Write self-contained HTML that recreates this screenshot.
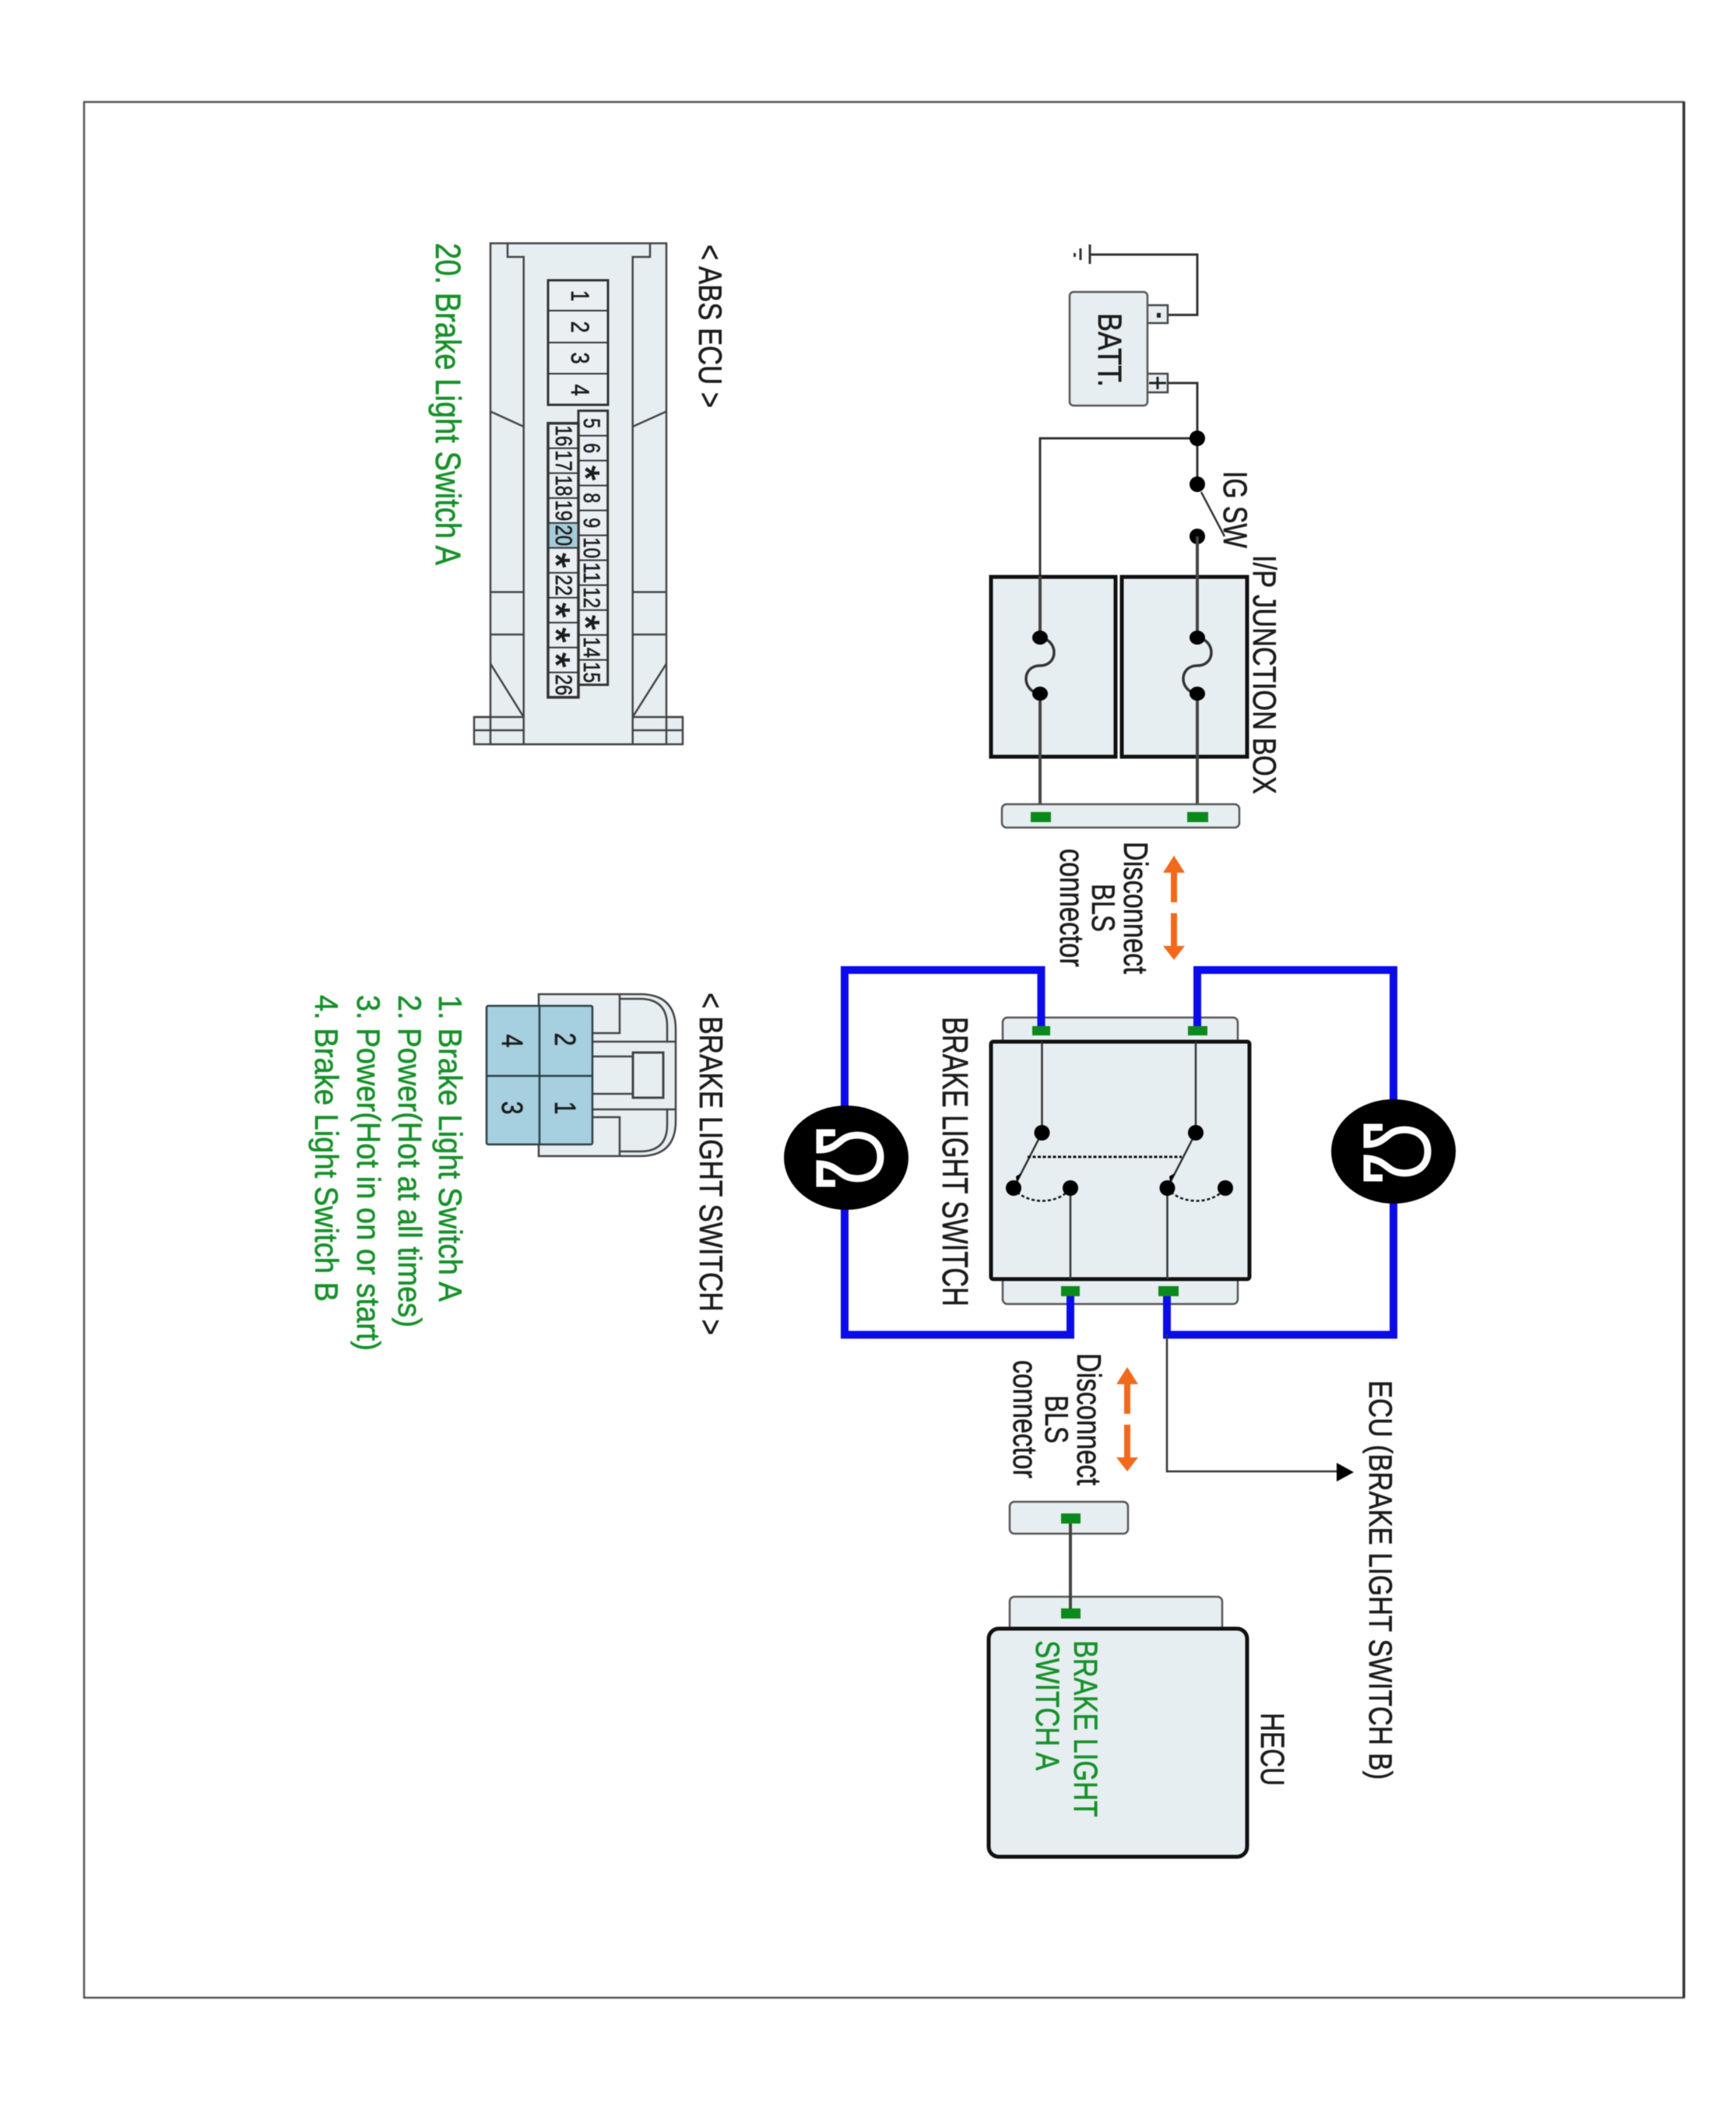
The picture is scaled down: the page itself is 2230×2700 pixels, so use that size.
<!DOCTYPE html>
<html><head><meta charset="utf-8"><style>
html,body{margin:0;padding:0;background:#fff}
svg{display:block;filter:blur(.6px)}
text{font-family:"Liberation Sans",sans-serif;fill:#1c1c1c;stroke:#1c1c1c;stroke-width:.6}
text.g{fill:#17912a;stroke:#17912a}
.f{fill:#e6eef1}
.w{fill:none;stroke:#333;stroke-width:3}
.t{fill:none;stroke:#444;stroke-width:4}
.b{fill:none;stroke:#0b0bea;stroke-width:10;stroke-linejoin:miter}
.c{fill:#0b8a1c}
.k{fill:#000}
.l{fill:none;stroke:#333;stroke-width:2.5}
.o{fill:none;stroke:#fff;stroke-width:9}
</style></head><body>
<svg width="2230" height="2700" viewBox="0 0 2230 2700" xmlns="http://www.w3.org/2000/svg">
<rect width="2230" height="2700" fill="#fff"/>
<rect x="108" y="131" width="2055" height="2435" fill="none" stroke="#555" stroke-width="2.5"/>
<line x1="2163" y1="131" x2="2163" y2="2566" stroke="#333" stroke-width="3.5"/>

<!-- battery / ground -->
<path class="w" d="M1400 327H1538V404.5H1500"/>
<path class="w" d="M1400 314V339M1388 319V334" />
<rect x="1379" y="325" width="3" height="5" fill="#333"/>
<rect class="f" x="1473" y="392" width="27" height="23" stroke="#444" stroke-width="2.5"/>
<rect class="f" x="1473" y="480" width="27" height="24" stroke="#444" stroke-width="2.5"/>
<rect x="1486" y="402" width="5" height="6" fill="#222"/>
<path d="M1476 492H1498M1487 484V500" stroke="#222" stroke-width="3" fill="none"/>
<rect class="f" x="1374" y="375" width="100" height="146" rx="5" stroke="#555" stroke-width="2.5"/>
<text transform="translate(1411,402) rotate(90)" font-size="43" textLength="95" lengthAdjust="spacingAndGlyphs">BATT.</text>
<path class="w" d="M1500 492H1538V622"/>
<path class="w" d="M1538 563H1336V740"/>
<circle class="k" cx="1538" cy="563" r="10"/>
<circle class="k" cx="1538" cy="622" r="10"/>
<circle class="k" cx="1538" cy="689" r="10"/>
<path d="M1543 632L1573 689" stroke="#333" stroke-width="2.5"/>
<text transform="translate(1572,605) rotate(90)" font-size="43" textLength="99" lengthAdjust="spacingAndGlyphs">IG SW</text>
<text transform="translate(1610,713) rotate(90)" font-size="42" textLength="307" lengthAdjust="spacingAndGlyphs">I/P JUNCTION BOX</text>

<!-- junction boxes -->
<rect class="f" x="1441" y="741" width="161" height="231" stroke="#111" stroke-width="5"/>
<rect class="f" x="1273" y="741" width="160" height="231" stroke="#111" stroke-width="5"/>
<path class="t" d="M1538 689V819M1538 891V1043"/>
<path class="t" d="M1336 740V819M1336 891V1043"/>
<g fill="none" stroke="#333" stroke-width="3.5">
<path d="M1538 819C1562 822 1562 855 1538 855C1514 855 1514 888 1538 891"/>
<path d="M1336 819C1360 822 1360 855 1336 855C1312 855 1312 888 1336 891"/>
</g>
<ellipse class="k" cx="1538" cy="819" rx="10" ry="9"/>
<ellipse class="k" cx="1538" cy="891" rx="10" ry="9"/>
<ellipse class="k" cx="1336" cy="819" rx="10" ry="9"/>
<ellipse class="k" cx="1336" cy="891" rx="10" ry="9"/>
<rect class="f" x="1287" y="1033" width="305" height="30" rx="6" stroke="#555" stroke-width="2.5"/>
<rect class="c" x="1525" y="1043" width="27" height="13"/>
<rect class="c" x="1324" y="1043" width="26" height="13"/>

<!-- upper disconnect -->
<text transform="translate(1444,1081) rotate(90)" font-size="44" textLength="170" lengthAdjust="spacingAndGlyphs">Disconnect</text>
<text transform="translate(1403,1135) rotate(90)" font-size="42" textLength="62" lengthAdjust="spacingAndGlyphs">BLS</text>
<text transform="translate(1362,1090) rotate(90)" font-size="44" textLength="152" lengthAdjust="spacingAndGlyphs">connector</text>
<path d="M1508 1099L1522 1121H1512V1159H1504V1121H1494Z M1504 1173H1512V1215H1522L1508 1233L1494 1215H1504Z" fill="#f2691c"/>

<!-- brake light switch -->
<rect class="f" x="1288" y="1307" width="302" height="40" rx="6" stroke="#555" stroke-width="2.5"/>
<rect class="f" x="1288" y="1635" width="302" height="40" rx="6" stroke="#555" stroke-width="2.5"/>
<rect class="f" x="1273" y="1338" width="332" height="305" rx="3" stroke="#111" stroke-width="5"/>
<text transform="translate(1211,1306) rotate(90)" font-size="46" textLength="372" lengthAdjust="spacingAndGlyphs">BRAKE LIGHT SWITCH</text>
<path class="b" d="M1337.5 1320V1246H1085V1714.5H1375V1663"/>
<path class="b" d="M1538 1320V1246H1790V1714.5H1499V1663"/>
<rect class="c" x="1326" y="1318" width="23" height="12"/>
<rect class="c" x="1526" y="1318" width="25" height="12"/>
<rect class="c" x="1363" y="1652" width="24" height="13"/>
<rect class="c" x="1488" y="1652" width="26" height="13"/>
<path class="l" d="M1338.5 1338V1455L1302 1526M1536 1338V1455L1499.5 1526M1375 1526V1643M1499.5 1526V1643"/>
<path d="M1320 1486H1518" stroke="#111" stroke-width="3" stroke-dasharray="4 2.5" fill="none"/>
<path d="M1302 1526C1318 1548 1360 1548 1375 1526M1499.5 1526C1516 1548 1558 1548 1574 1526" stroke="#111" stroke-width="2.5" stroke-dasharray="4 3" fill="none"/>
<circle class="k" cx="1338.5" cy="1455" r="10"/>
<circle class="k" cx="1536" cy="1455" r="10"/>
<circle class="k" cx="1302" cy="1526" r="10"/>
<circle class="k" cx="1375" cy="1526" r="10"/>
<circle class="k" cx="1499.5" cy="1526" r="10"/>
<circle class="k" cx="1574" cy="1526" r="10"/>
<path class="k" d="M1305 1511L1312 1507L1306 1519Z M1502 1511L1509 1507L1503 1519Z"/>

<!-- lamp circles -->
<ellipse class="k" cx="1087" cy="1487" rx="80" ry="67"/>
<ellipse class="k" cx="1790" cy="1479" rx="80" ry="67"/>
<path class="o" d="M1073 1455H1053V1477C1068 1477 1074 1470 1082 1464C1096 1453 1131 1456 1131 1486C1131 1516 1096 1519 1082 1508C1074 1502 1068 1496 1053 1495V1520H1073"/>
<path class="o" transform="translate(703,-7)" d="M1073 1455H1053V1477C1068 1477 1074 1470 1082 1464C1096 1453 1131 1456 1131 1486C1131 1516 1096 1519 1082 1508C1074 1502 1068 1496 1053 1495V1520H1073"/>

<!-- lower disconnect -->
<text transform="translate(1384,1738) rotate(90)" font-size="44" textLength="170" lengthAdjust="spacingAndGlyphs">Disconnect</text>
<text transform="translate(1343,1792) rotate(90)" font-size="42" textLength="62" lengthAdjust="spacingAndGlyphs">BLS</text>
<text transform="translate(1302,1747) rotate(90)" font-size="44" textLength="152" lengthAdjust="spacingAndGlyphs">connector</text>
<path d="M1448 1756L1462 1778H1452V1816H1444V1778H1434Z M1444 1830H1452V1872H1462L1448 1890L1434 1872H1444Z" fill="#f2691c"/>
<path class="l" d="M1499 1714V1890H1720"/>
<path class="k" d="M1717 1879L1739 1891L1717 1903Z"/>
<text transform="translate(1759,1773) rotate(90)" font-size="42" textLength="513" lengthAdjust="spacingAndGlyphs">ECU (BRAKE LIGHT SWITCH B)</text>

<!-- HECU -->
<rect class="f" x="1297" y="1929" width="152" height="41" rx="6" stroke="#555" stroke-width="2.5"/>
<rect class="f" x="1297" y="2051" width="273" height="50" rx="6" stroke="#555" stroke-width="2.5"/>
<path class="t" d="M1375 1957V2066"/>
<rect class="c" x="1363" y="1944" width="25" height="13"/>
<rect class="c" x="1363" y="2066" width="25" height="13"/>
<rect class="f" x="1270" y="2092" width="332" height="293" rx="13" stroke="#111" stroke-width="5"/>
<text class="g" transform="translate(1380,2107) rotate(90)" font-size="43" textLength="227" lengthAdjust="spacingAndGlyphs">BRAKE LIGHT</text>
<text class="g" transform="translate(1331,2107) rotate(90)" font-size="43" textLength="167" lengthAdjust="spacingAndGlyphs">SWITCH A</text>
<text transform="translate(1620,2200) rotate(90)" font-size="43" textLength="94" lengthAdjust="spacingAndGlyphs">HECU</text>

<!-- ABS ECU connector -->
<text transform="translate(898,314) rotate(90)" font-size="42" textLength="210" lengthAdjust="spacingAndGlyphs">&lt; ABS ECU &gt;</text>
<text class="g" transform="translate(560,312) rotate(90)" font-size="45" textLength="414" lengthAdjust="spacingAndGlyphs">20. Brake Light Switch A</text>
<rect class="f" x="609" y="921" width="268" height="35" stroke="#444" stroke-width="2.5"/>
<path class="f" d="M630 312.5H856V956H630Z" stroke="#444" stroke-width="2.5"/>
<g fill="none" stroke="#444" stroke-width="2.5">
<path d="M652 312.5V330H672.7V956M835 312.5V330H812.7V956"/>
<path d="M630 528.5L672.7 548M812.7 548L856 528.5"/>
<path d="M630 760.5H672.7M630 815H672.7M812.7 760.5H856M812.7 815H856"/>
<path d="M630 852.5L672.7 921M812.7 921L856 852.5"/>
<path d="M609 921H672.7M609 938H672.7M812.7 921H877M812.7 938H877"/>
</g>
<rect fill="#e9eff2" x="704" y="360" width="77" height="160" stroke="#333" stroke-width="3"/>
<path d="M704 399H781M704 440H781M704 480H781" stroke="#333" stroke-width="2" fill="none"/>
<g font-size="32" text-anchor="middle">
<text transform="translate(734,380) rotate(90)" textLength="14" lengthAdjust="spacingAndGlyphs">1</text>
<text transform="translate(734,420) rotate(90)" textLength="15" lengthAdjust="spacingAndGlyphs">2</text>
<text transform="translate(734,460) rotate(90)" textLength="15" lengthAdjust="spacingAndGlyphs">3</text>
<text transform="translate(734,501) rotate(90)" textLength="15" lengthAdjust="spacingAndGlyphs">4</text>
</g>
<rect fill="#e9eff2" x="743" y="527.6" width="37.7" height="352" stroke="#333" stroke-width="3"/>
<rect fill="#e9eff2" x="704" y="543.7" width="39" height="352" stroke="#333" stroke-width="3.5"/>
<rect fill="#a3cbd9" x="706" y="671.7" width="35.5" height="32"/>
<path d="M743 559.6H781M743 591.6H781M743 623.6H781M743 655.6H781M743 687.6H781M743 719.6H781M743 751.6H781M743 783.6H781M743 815.6H781M743 847.6H781" stroke="#333" stroke-width="2" fill="none"/>
<path d="M704 575.7H743M704 607.7H743M704 639.7H743M704 671.7H743M704 703.7H743M704 735.7H743M704 767.7H743M704 799.7H743M704 831.7H743M704 863.7H743" stroke="#333" stroke-width="2" fill="none"/>
<g font-size="30" text-anchor="middle">
<text transform="translate(750,543.6) rotate(90)" textLength="13" lengthAdjust="spacingAndGlyphs">5</text>
<text transform="translate(750,575.6) rotate(90)" textLength="13" lengthAdjust="spacingAndGlyphs">6</text>
<text transform="translate(750,639.6) rotate(90)" textLength="13" lengthAdjust="spacingAndGlyphs">8</text>
<text transform="translate(750,671.6) rotate(90)" textLength="13" lengthAdjust="spacingAndGlyphs">9</text>
<text transform="translate(750,703.6) rotate(90)" textLength="27" lengthAdjust="spacingAndGlyphs">10</text>
<text transform="translate(750,735.6) rotate(90)" textLength="27" lengthAdjust="spacingAndGlyphs">11</text>
<text transform="translate(750,767.6) rotate(90)" textLength="27" lengthAdjust="spacingAndGlyphs">12</text>
<text transform="translate(750,831.6) rotate(90)" textLength="27" lengthAdjust="spacingAndGlyphs">14</text>
<text transform="translate(750,863.6) rotate(90)" textLength="27" lengthAdjust="spacingAndGlyphs">15</text>
<text transform="translate(714,559.7) rotate(90)" textLength="27" lengthAdjust="spacingAndGlyphs">16</text>
<text transform="translate(714,591.7) rotate(90)" textLength="27" lengthAdjust="spacingAndGlyphs">17</text>
<text transform="translate(714,623.7) rotate(90)" textLength="27" lengthAdjust="spacingAndGlyphs">18</text>
<text transform="translate(714,655.7) rotate(90)" textLength="27" lengthAdjust="spacingAndGlyphs">19</text>
<text transform="translate(714,687.7) rotate(90)" textLength="27" lengthAdjust="spacingAndGlyphs">20</text>
<text transform="translate(714,751.7) rotate(90)" textLength="27" lengthAdjust="spacingAndGlyphs">22</text>
<text transform="translate(714,879.7) rotate(90)" textLength="27" lengthAdjust="spacingAndGlyphs">26</text>
</g>
<g font-size="50" text-anchor="middle" style="stroke-width:1">
<text transform="translate(735,607.6) rotate(90)" style="stroke-width:1">*</text>
<text transform="translate(735,799.6) rotate(90)" style="stroke-width:1">*</text>
<text transform="translate(697,719.7) rotate(90)" style="stroke-width:1">*</text>
<text transform="translate(697,783.7) rotate(90)" style="stroke-width:1">*</text>
<text transform="translate(697,815.7) rotate(90)" style="stroke-width:1">*</text>
<text transform="translate(697,847.7) rotate(90)" style="stroke-width:1">*</text>
</g>

<!-- brake light switch connector -->
<text transform="translate(899,1275) rotate(90)" font-size="42" textLength="440" lengthAdjust="spacingAndGlyphs">&lt; BRAKE LIGHT SWITCH &gt;</text>
<path class="f" d="M692 1277H822Q868 1277 868 1322V1440Q868 1485 822 1485H692Z" stroke="#444" stroke-width="2.5"/>
<g fill="none" stroke="#444" stroke-width="2.5">
<path d="M796 1277V1327H761M761 1338H868M761 1425H868M761 1435H796V1485"/>
<path d="M796 1283H822Q857 1283 857 1318V1338M857 1425V1445Q857 1479 822 1479H796"/>
<path d="M761 1357H813M761 1405H813"/>
<rect x="813" y="1352" width="39" height="58" stroke-width="3"/>
</g>
<rect x="625" y="1292" width="136" height="178" rx="2" fill="#a6cfdf" stroke="#2c3e46" stroke-width="2.5"/>
<path d="M693 1292V1470M625 1382H761" stroke="#2c3e46" stroke-width="2.5" fill="none"/>
<g font-size="38" text-anchor="middle">
<text transform="translate(713,1335) rotate(90)" textLength="17" lengthAdjust="spacingAndGlyphs">2</text>
<text transform="translate(713,1423) rotate(90)" textLength="17" lengthAdjust="spacingAndGlyphs">1</text>
<text transform="translate(645,1337) rotate(90)" textLength="17" lengthAdjust="spacingAndGlyphs">4</text>
<text transform="translate(645,1423) rotate(90)" textLength="17" lengthAdjust="spacingAndGlyphs">3</text>
</g>
<g font-size="42">
<text class="g" transform="translate(564,1278) rotate(90)" textLength="394" lengthAdjust="spacingAndGlyphs">1. Brake Light Switch A</text>
<text class="g" transform="translate(512,1278) rotate(90)" textLength="427" lengthAdjust="spacingAndGlyphs">2. Power(Hot at all times)</text>
<text class="g" transform="translate(459,1278) rotate(90)" textLength="457" lengthAdjust="spacingAndGlyphs">3. Power(Hot in on or start)</text>
<text class="g" transform="translate(405,1278) rotate(90)" textLength="394" lengthAdjust="spacingAndGlyphs">4. Brake Light Switch B</text>
</g>
</svg>
</body></html>
